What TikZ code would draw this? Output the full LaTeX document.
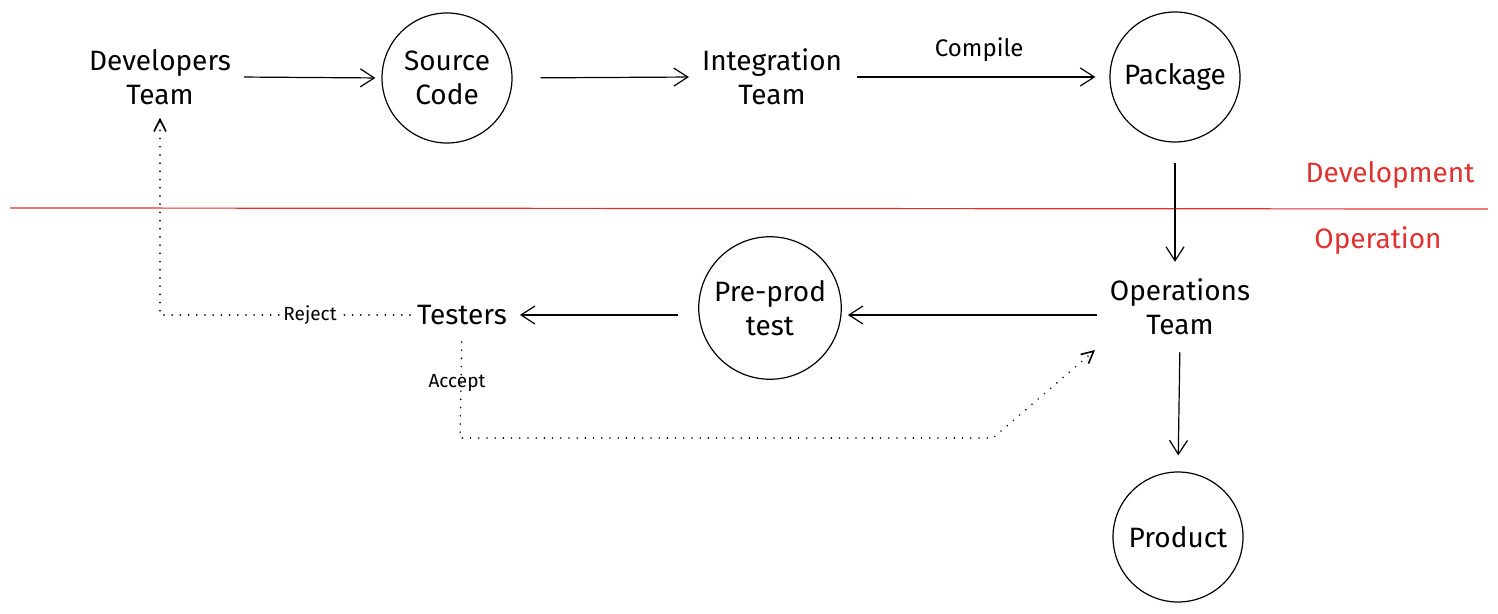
\documentclass[tikz,border=0pt]{standalone}
\usepackage{fontspec}
\setmainfont{Fira Sans}
\usepackage{xcolor}
\usetikzlibrary{arrows.meta,positioning}
\definecolor{sketchred}{HTML}{E03131}

\begin{document}
\begin{tikzpicture}[x=0.5pt,y=-0.5pt,
    label/.style={font=\fontsize{14}{17}\selectfont, align=center},
    small/.style={font=\fontsize{9.5}{11}\selectfont},
    stage/.style={circle, draw, line width=0.6pt, minimum size=65pt, align=center,
                  font=\fontsize{14}{17}\selectfont},
    flow/.style={line width=0.6pt, -{Straight Barb[length=7pt,width=9pt]}},
    back/.style={line width=0.8pt, line cap=round, dash pattern=on 0.1pt off 4pt,
                 -{Straight Barb[length=6pt,width=6pt]}}]
    \useasboundingbox (0,0) rectangle (1498,614);

    % Development side
    \node[label] (dev) at (160,77) {Developers\\Team};
    \node[stage] (src) at (447,78) {Source\\Code};
    \node[label] (integ) at (772,77) {Integration\\Team};
    \node[stage] (pkg) at (1175,77) {Package};

    \draw[flow, shorten <=3pt, shorten >=3pt] (dev.east) -- (src.west);
    \draw[flow, shorten <=14pt, shorten >=3pt] (src.east) -- (integ.west);
    \draw[flow, shorten <=4pt, shorten >=7pt] (integ.east) -- node[above=4pt, font=\fontsize{12}{14}\selectfont] {Compile} (pkg.west);

    % Split line
    \draw[sketchred, line width=0.6pt] (10,208) -- (1488,209);
    \node[label, text=sketchred] (devlbl) at (1390,175) {Development};
    \node[label, text=sketchred] (oplbl) at (1378,241) {Operation};

    % Operation side
    \node[label] (ops) at (1180,307) {Operations\\Team};
    \node[stage] (pre) at (770,308) {Pre-prod\\test};
    \node[label] (testers) at (462,315) {Testers};
    \node[stage] (prod) at (1178,537) {Product};

    \draw[flow, shorten <=10pt, shorten >=5pt] (pkg.south) -- (pkg.south |- ops.north);
    \draw[flow, shorten <=3pt, shorten >=3pt] ([yshift=-4pt]ops.west) -- ([yshift=-4pt]pre.east |- ops.west);
    \draw[flow, shorten <=10pt, shorten >=3pt] (pre.west |- testers.east) -- (testers.east);
    \draw[flow, shorten <=5pt, shorten >=8pt] (ops.south) -- (prod.north);

    % Test results
    \coordinate (ac1) at (460,438);
    \coordinate (ac2) at (993,438);
    \coordinate (ac3) at (1095,350);
    \draw[back, shorten >=3pt] (testers.west) -- node[pos=0.4, fill=white, inner sep=1pt, small] {Reject} (dev.south |- testers.west) -- (dev.south);
    \draw[back, shorten <=5pt] (testers.south) -- (ac1) -- (ac2) -- (ac3);
    \node[small] (acc) at (457,383) {Accept};
\end{tikzpicture}
\end{document}
